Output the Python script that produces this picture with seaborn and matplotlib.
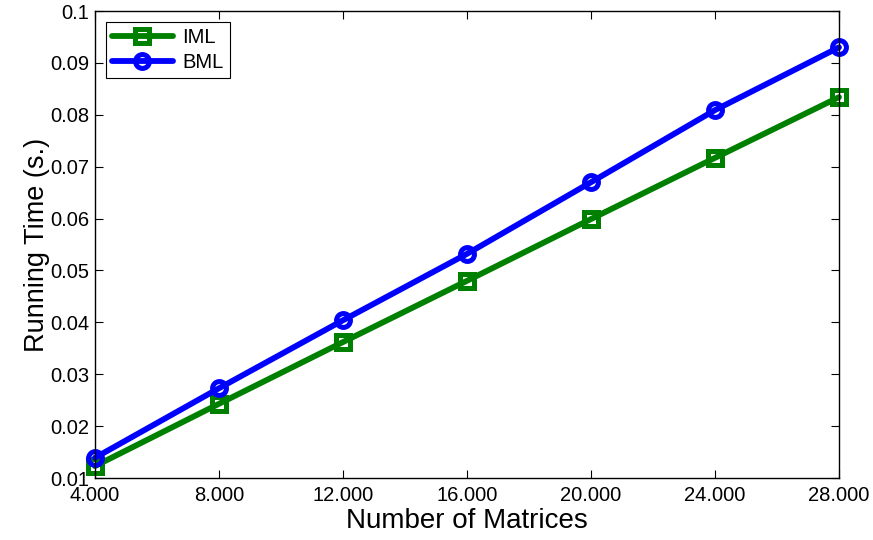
import matplotlib
matplotlib.use("Agg")
import matplotlib.pyplot as plt
from matplotlib.lines import Line2D
import seaborn as sns
import pandas as pd

n_matrices = [4000, 8000, 12000, 16000, 20000, 24000, 28000]
x_tick_labels = ["4.000", "8.000", "12.000", "16.000", "20.000", "24.000", "28.000"]
iml_time = [0.0123, 0.0243, 0.0362, 0.0480, 0.0599, 0.0717, 0.0834]
bml_time = [0.0139, 0.0273, 0.0404, 0.0532, 0.0670, 0.0809, 0.0930]
y_ticks = [0.01, 0.02, 0.03, 0.04, 0.05, 0.06, 0.07, 0.08, 0.09, 0.1]
y_tick_labels = ["0.01", "0.02", "0.03", "0.04", "0.05", "0.06", "0.07", "0.08", "0.09", "0.1"]

df = pd.DataFrame({
    "n": n_matrices * 2,
    "time": iml_time + bml_time,
    "method": ["IML"] * len(n_matrices) + ["BML"] * len(n_matrices),
})

sns.set_style("ticks")
plt.rcParams['font.family'] = ['Liberation Sans', 'DejaVu Sans']
plt.rcParams['text.color'] = 'black'
plt.rcParams['axes.labelcolor'] = 'black'
plt.rcParams['xtick.color'] = 'black'
plt.rcParams['ytick.color'] = 'black'

fig = plt.figure(figsize=(8.73, 5.40), dpi=100)
ax = fig.add_axes([0.1088, 0.1148, 0.8522, 0.8648])

palette = {"IML": "#008000", "BML": "#0000ff"}
markers = {"IML": "s", "BML": "o"}
lw = 4.2
ms = 10.0
mew = 3.6
sns.lineplot(data=df, x="n", y="time", hue="method", style="method",
             markers=markers, dashes=False, palette=palette, ax=ax,
             linewidth=lw, markersize=ms, markeredgewidth=mew, legend=False)
for line in ax.lines:
    line.set_markerfacecolor("none")
    line.set_markeredgecolor(line.get_color())
    line.set_clip_on(False)

ax.set_xlim(4000, 28000)
ax.set_ylim(0.01, 0.1)
ax.set_xticks(n_matrices)
ax.set_xticklabels(x_tick_labels)
ax.set_yticks(y_ticks)
ax.set_yticklabels(y_tick_labels)
ax.tick_params(direction="in", top=True, right=True, labelsize=14.5, length=6, width=0.8)
ax.tick_params(axis="x", pad=6)
ax.tick_params(axis="y", pad=4)
for s in ax.spines.values():
    s.set_visible(True)
    s.set_linewidth(1.0)
    s.set_color("black")

ax.set_xlabel("Number of Matrices", fontsize=20, labelpad=2)
ax.set_ylabel("Running Time (s.)", fontsize=19.5, labelpad=0)

handles = [Line2D([], [], color=palette[m], marker=markers[m], linewidth=lw,
                  markersize=ms, markeredgewidth=mew, markerfacecolor="none")
           for m in ["IML", "BML"]]
leg = ax.legend(handles, ["IML", "BML"], loc="upper left", fontsize=14.5,
                frameon=True, fancybox=False, edgecolor="black", framealpha=1,
                borderaxespad=0.55, handlelength=3.0, labelspacing=0.3,
                borderpad=0.3, handletextpad=0.5)
leg.get_frame().set_linewidth(0.8)

fig.savefig("out.png", dpi=100)
